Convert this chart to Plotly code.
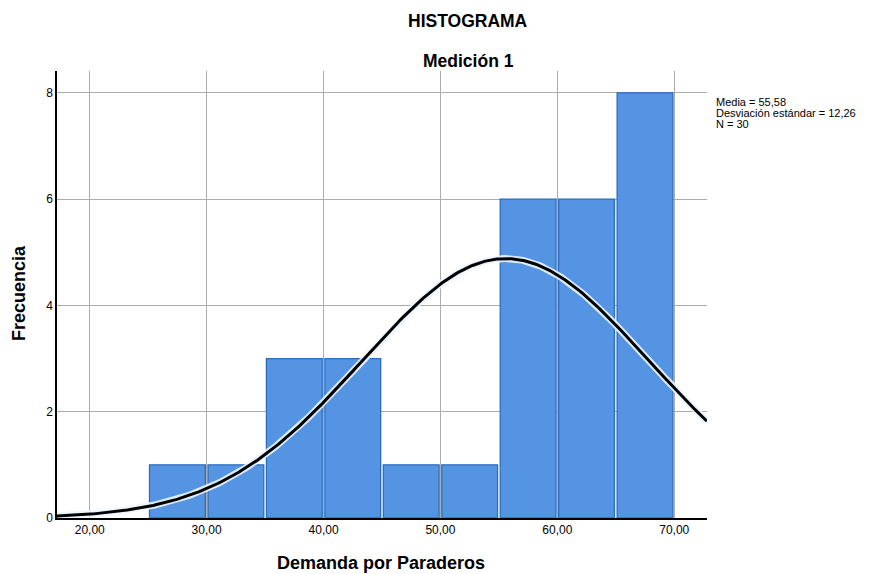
import numpy as np
import plotly.graph_objects as go

# Histogram data: bin edges and frequencies
bin_edges = [25, 30, 35, 40, 45, 50, 55, 60, 65, 70]
frequencies = [1, 1, 3, 3, 1, 1, 6, 6, 8]

# Summary statistics shown beside the plot
media = 55.58
desviacion = 12.26
n_total = 30

x_ticks = [20, 30, 40, 50, 60, 70]
y_ticks = [0, 2, 4, 6, 8]

x_range = [17.2, 72.8]
y_range = [0, 8.41]

centers = [(a + b) / 2 for a, b in zip(bin_edges[:-1], bin_edges[1:])]
widths = [(b - a) for a, b in zip(bin_edges[:-1], bin_edges[1:])]
bin_w = widths[0]

# Normal curve scaled to the histogram counts
xc = np.linspace(x_range[0], x_range[1], 400)
yc = n_total * bin_w / (desviacion * np.sqrt(2 * np.pi)) * np.exp(-0.5 * ((xc - media) / desviacion) ** 2)

fig = go.Figure()
fig.add_trace(go.Bar(
    x=centers, y=frequencies, width=[w * 0.955 for w in widths],
    marker=dict(color="#5594e2", line=dict(color="#2d6cbd", width=1.3)),
    hoverinfo="x+y",
))
fig.add_trace(go.Scatter(x=xc, y=yc, mode="lines",
                         line=dict(color="rgba(235,245,255,0.9)", width=7),
                         hoverinfo="skip"))
fig.add_trace(go.Scatter(x=xc, y=yc, mode="lines",
                         line=dict(color="#000000", width=3),
                         hoverinfo="skip"))

font_family = "Liberation Sans, Arial, sans-serif"

W, H = 872, 574
ml, mr, mt, mb = 57, 165, 71, 56
pw, ph = W - ml - mr, H - mt - mb


def px_note(text, x, y, size, xanchor="center", angle=0):
    """Annotation placed by pixel position in the page."""
    return dict(text=text, x=(x - ml) / pw, y=1 - (y - mt) / ph,
                xref="paper", yref="paper", xanchor=xanchor, yanchor="middle",
                showarrow=False, textangle=angle, font=dict(size=size))


fig.update_layout(
    width=W, height=H,
    margin=dict(l=ml, r=mr, t=mt, b=mb),
    paper_bgcolor="white", plot_bgcolor="white",
    showlegend=False,
    separators=",.",
    font=dict(family=font_family, color="#000000", size=12),
    xaxis=dict(
        range=x_range, tickvals=x_ticks, tickformat=".2f",
        showgrid=True, gridcolor="#ababab", gridwidth=1,
        showline=True, linecolor="#000000", linewidth=1.5,
        zeroline=False, ticks="", ticklen=0,
        tickfont=dict(size=12, color="#000000"),
    ),
    yaxis=dict(
        range=y_range, tickvals=y_ticks,
        showgrid=True, gridcolor="#ababab", gridwidth=1,
        showline=True, linecolor="#000000", linewidth=1.5,
        zeroline=False, ticks="", ticklen=0,
        tickfont=dict(size=12, color="#000000"),
    ),
    annotations=[
        px_note("<b>HISTOGRAMA</b>", 468, 21, 17.5),
        px_note("<b>Medición 1</b>", 468, 61, 17.5),
        px_note("<b>Demanda por Paraderos</b>", 381, 563, 18),
        px_note("<b>Frecuencia</b>", 19, 293, 18, angle=-90),
        px_note("Media = " + f"{media:.2f}".replace(".", ","), 714, 102, 11, xanchor="left"),
        px_note("Desviación estándar = " + f"{desviacion:.2f}".replace(".", ","), 714, 113, 11, xanchor="left"),
        px_note(f"N = {n_total}", 714, 124, 11, xanchor="left"),
    ],
)

fig.write_html("out.html")
